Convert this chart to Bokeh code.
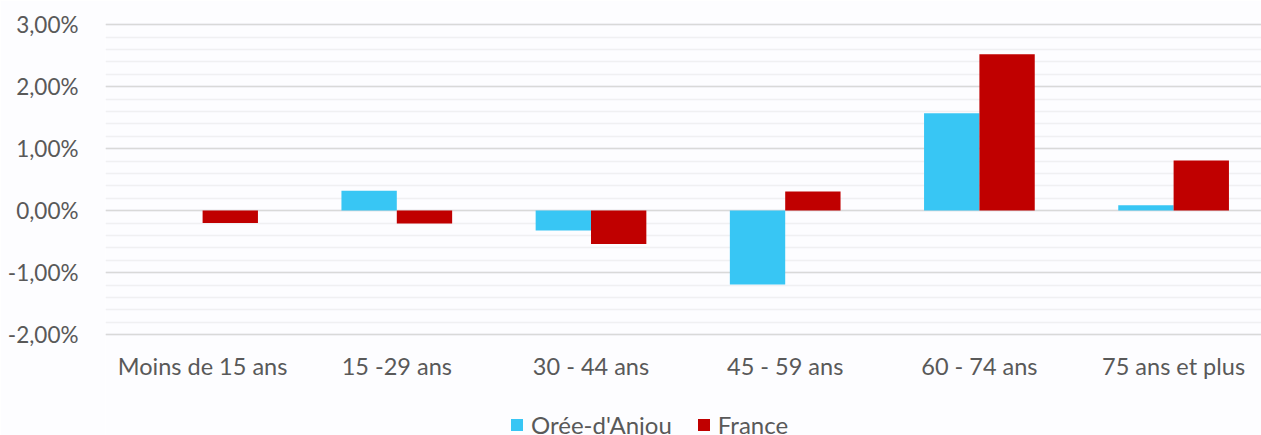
from bokeh.plotting import figure
from bokeh.models import (ColumnDataSource, Range1d, FixedTicker, Legend, LegendItem)
from bokeh.transform import dodge
from bokeh.embed import file_html
from bokeh.resources import INLINE

categories = ["Moins de 15 ans", "15 -29 ans", "30 - 44 ans", "45 - 59 ans", "60 - 74 ans", "75 ans et plus"]
oree = [0.0, 0.32, -0.32, -1.19, 1.57, 0.085]
france = [-0.20, -0.21, -0.54, 0.31, 2.52, 0.81]
y_ticks = [-2, -1, 0, 1, 2, 3]
y_tick_labels = ["-2,00%", "-1,00%", "0,00%", "1,00%", "2,00%", "3,00%"]
series_names = ["Orée-d'Anjou", "France"]
colors = ["#38c6f4", "#c00000"]

FONT = "Lato"
TXT = "#595959"

PX_PER_UNIT = 62.0
Y_TOP = 3.05
Y_AXIS_POS = -2.05
FRAME_H = 435 - 21
Y_BOTTOM = Y_TOP - FRAME_H / PX_PER_UNIT

pos = [i + 0.5 for i in range(len(categories))]
src = ColumnDataSource(dict(x=pos, oree=oree, france=france))

p = figure(width=1261, height=435, output_backend="svg", toolbar_location=None,
           x_range=Range1d(0, 1156 / 194.2), y_range=Range1d(Y_BOTTOM, Y_TOP),
           min_border_left=105, min_border_right=0, min_border_top=21, min_border_bottom=0,
           background_fill_color="#fdfdff", border_fill_color="#fdfdff")
p.outline_line_color = None

bw = 0.285
r1 = p.vbar(x=dodge("x", -bw / 2, range=p.x_range), top="oree", bottom=0, width=bw,
            source=src, fill_color=colors[0], line_color=None)
r2 = p.vbar(x=dodge("x", bw / 2, range=p.x_range), top="france", bottom=0, width=bw,
            source=src, fill_color=colors[1], line_color=None)

# y axis
p.yaxis.ticker = FixedTicker(ticks=y_ticks)
p.yaxis.major_label_overrides = {t: l for t, l in zip(y_ticks, y_tick_labels)}
p.yaxis.axis_line_color = None
p.yaxis.major_tick_line_color = None
p.yaxis.minor_tick_line_color = None
p.yaxis.major_label_text_font = FONT
p.yaxis.major_label_text_font_size = "22.5px"
p.yaxis.major_label_text_color = TXT
p.yaxis.major_label_standoff = 21

# x axis, drawn at the bottom of the value area
p.xaxis.fixed_location = Y_AXIS_POS
p.xaxis.ticker = FixedTicker(ticks=pos)
p.xaxis.major_label_overrides = {x: c for x, c in zip(pos, categories)}
p.xaxis.axis_line_color = None
p.xaxis.major_tick_line_color = None
p.xaxis.minor_tick_line_color = None
p.xaxis.major_label_text_font = FONT
p.xaxis.major_label_text_font_size = "23.5px"
p.xaxis.major_label_text_color = TXT
p.xaxis.major_label_standoff = 8

# grids
p.xgrid.grid_line_color = None
minor = [round(-2 + 0.2 * k, 2) for k in range(26)]
p.ygrid.ticker = FixedTicker(ticks=y_ticks, minor_ticks=minor)
p.ygrid.grid_line_color = "#d9d9d9"
p.ygrid.grid_line_width = 1.5
p.ygrid.minor_grid_line_color = "#f0f0f2"
p.ygrid.minor_grid_line_width = 1.5
p.ygrid.level = "underlay"

legend = Legend(items=[LegendItem(label=series_names[0], renderers=[r1]),
                       LegendItem(label=series_names[1], renderers=[r2])],
                orientation="horizontal", location=(404, -4),
                glyph_width=15, glyph_height=15, label_standoff=7, spacing=24,
                padding=0, margin=0, border_line_color=None,
                background_fill_alpha=0,
                label_text_font=FONT, label_text_font_size="24px", label_text_color=TXT)
p.add_layout(legend, "center")

open("out.html", "w").write(file_html(p, INLINE))
